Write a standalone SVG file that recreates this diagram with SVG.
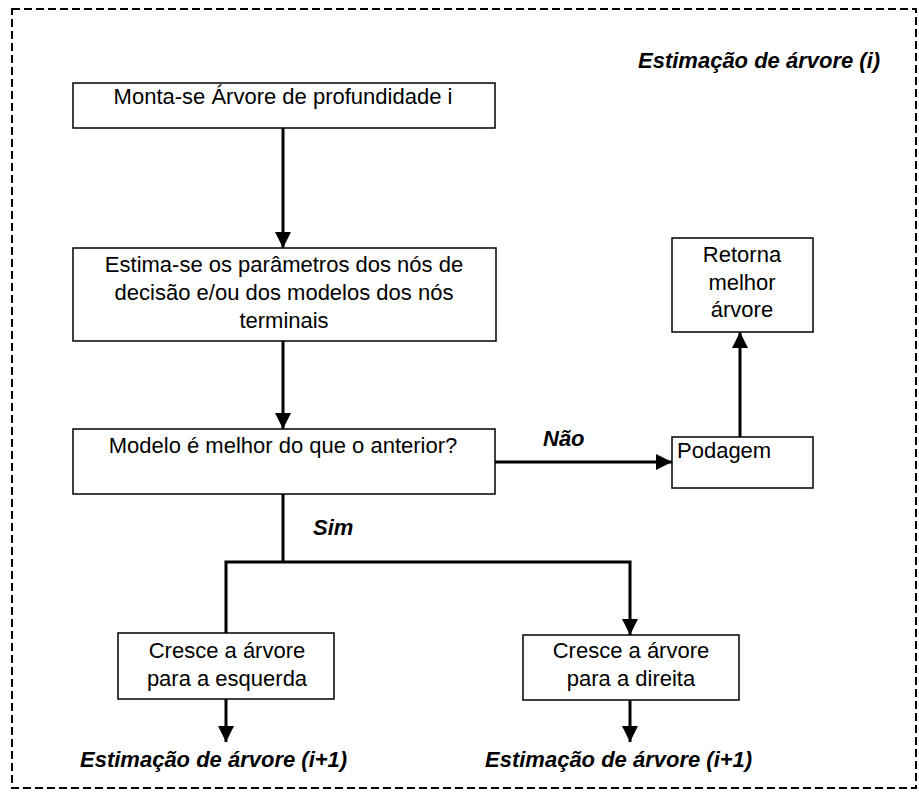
<svg xmlns="http://www.w3.org/2000/svg" width="919" height="798" viewBox="0 0 919 798">
<style>
.box{fill:#fff;stroke:#000;stroke-width:1.5}
.t{font-family:"Liberation Sans",Arial,sans-serif;font-size:22px;fill:#000}
.c{text-anchor:middle}
.bi{font-weight:bold;font-style:italic}
.con{fill:none;stroke:#000;stroke-width:3}
</style>
<defs>
<marker id="ah" markerUnits="userSpaceOnUse" markerWidth="17" markerHeight="17" refX="16" refY="8" orient="auto">
<path d="M0,0 L16,8 L0,16 Z" fill="#000"/>
</marker>
</defs>
<rect x="12" y="9" width="904" height="779" fill="none" stroke="#000" stroke-width="2" stroke-dasharray="8,4"/>
<text class="t bi" x="638" y="68">Estimação de árvore (i)</text>
<g id="connectors">
<line class="con" x1="283" y1="128" x2="283" y2="248" marker-end="url(#ah)"/>
<line class="con" x1="283" y1="341" x2="283" y2="429" marker-end="url(#ah)"/>
<line class="con" x1="494" y1="462" x2="672" y2="462" marker-end="url(#ah)"/>
<line class="con" x1="740" y1="437" x2="740" y2="332" marker-end="url(#ah)"/>
<polyline class="con" points="283,494 283,562"/>
<polyline class="con" points="226,633 226,562 630,562 630,635" marker-end="url(#ah)"/>
<line class="con" x1="226" y1="699" x2="226" y2="742" marker-end="url(#ah)"/>
<line class="con" x1="630" y1="700" x2="630" y2="742" marker-end="url(#ah)"/>
<text class="t bi" x="543" y="446">Não</text>
<text class="t bi" x="313" y="535">Sim</text>
</g>
<g id="n1">
<rect class="box" x="73" y="83" width="422" height="45"/>
<text class="t c" x="283" y="104">Monta-se Árvore de profundidade i</text>
</g>
<g id="n2">
<rect class="box" x="73" y="248" width="423" height="93"/>
<text class="t c" x="284" y="272">Estima-se os parâmetros dos nós de</text>
<text class="t c" x="284" y="300">decisão e/ou dos modelos dos nós</text>
<text class="t c" x="284" y="328">terminais</text>
</g>
<g id="n3">
<rect class="box" x="73" y="429" width="422" height="65"/>
<text class="t c" x="283" y="453">Modelo é melhor do que o anterior?</text>
</g>
<g id="n4">
<rect class="box" x="672" y="437" width="141" height="51"/>
<text class="t" x="677" y="458">Podagem</text>
</g>
<g id="n5">
<rect class="box" x="672" y="238" width="141" height="94"/>
<text class="t c" x="742" y="262">Retorna</text>
<text class="t c" x="742" y="290">melhor</text>
<text class="t c" x="742" y="317">árvore</text>
</g>
<g id="n6">
<rect class="box" x="118" y="633" width="216" height="66"/>
<text class="t c" x="227" y="658">Cresce a árvore</text>
<text class="t c" x="227" y="686">para a esquerda</text>
</g>
<g id="n7">
<rect class="box" x="523" y="635" width="216" height="65"/>
<text class="t c" x="631" y="658">Cresce a árvore</text>
<text class="t c" x="631" y="686">para a direita</text>
</g>
<text class="t bi" x="80" y="767">Estimação de árvore (i+1)</text>
<text class="t bi" x="485" y="767">Estimação de árvore (i+1)</text>
</svg>
